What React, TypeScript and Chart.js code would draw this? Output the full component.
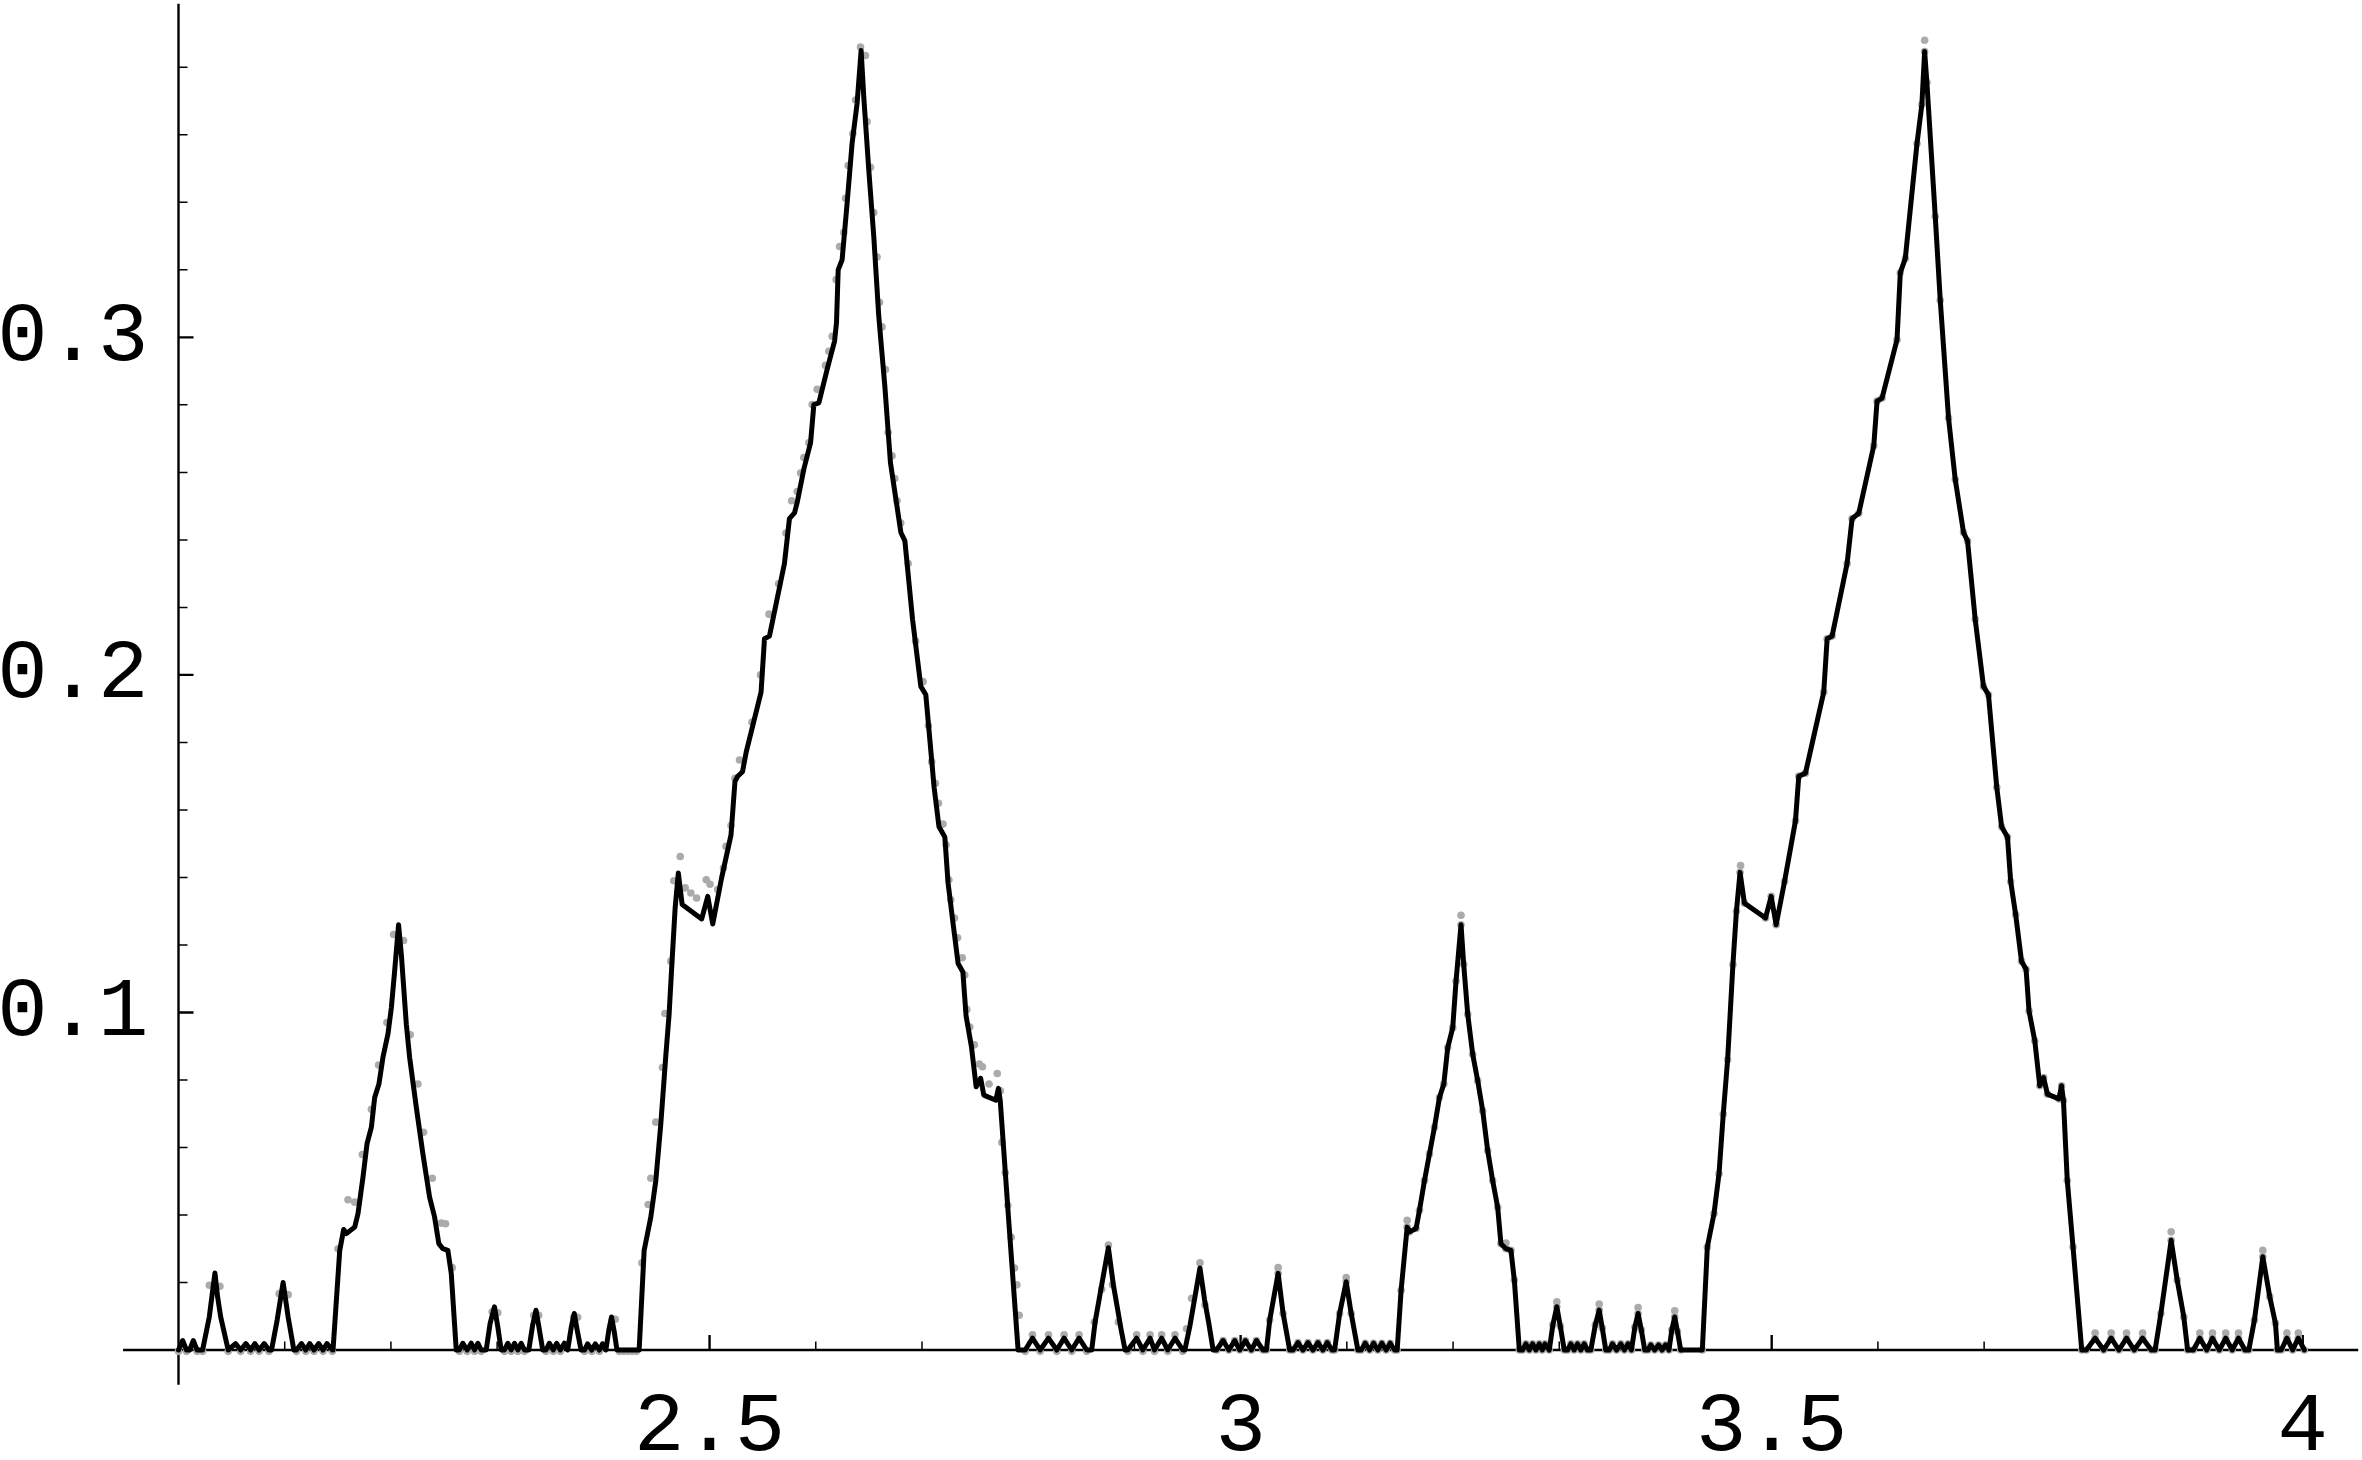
import React, { useEffect, useRef } from 'react';
import { Chart, registerables } from 'chart.js';

Chart.register(...registerables);

// ---------- axis / tick values ----------
const xMajorTicks = [2.5, 3, 3.5, 4];
const xTickLabels = ['2.5', '3', '3.5', '4'];
const xMinorTicks = [2.1, 2.2, 2.3, 2.4, 2.6, 2.7, 2.8, 2.9, 3.1, 3.2, 3.3, 3.4, 3.6, 3.7, 3.8, 3.9];
const yMajorTicks = [0.1, 0.2, 0.3];
const yTickLabels = ['0.1', '0.2', '0.3'];
const yMinorTicks = [0.02, 0.04, 0.06, 0.08, 0.12, 0.14, 0.16, 0.18, 0.22, 0.24, 0.26, 0.28, 0.32, 0.34, 0.36, 0.38];

const xMin = 2;
const xMax = 4.0522;
const yMin = 0;
const yMax = 0.39882;
const xAxisFrom = 1.9478;
const yAxisFrom = -0.0103;

// ---------- black curve (x, y) ----------
const curveA: [number, number][] = [
  [2.0000, 0], [2.0039, 0.0028], [2.0075, 0], [2.0105, 0], [2.0139, 0.0028], [2.0175, 0], [2.0227, 0],
  [2.0290, 0.0098], [2.0318, 0.0167], [2.0343, 0.0228], [2.0368, 0.0158], [2.0397, 0.0098], [2.0468, 0],
  [2.0537, 0.0019], [2.0585, 0], [2.0634, 0.0019], [2.0679, 0], [2.0719, 0.0019], [2.0759, 0], [2.0807, 0.0019], [2.0851, 0],
  [2.0876, 0], [2.0929, 0.0089], [2.0985, 0.0200], [2.1032, 0.0098], [2.1086, 0],
  [2.1111, 0], [2.1158, 0.0019], [2.1198, 0], [2.1236, 0.0019], [2.1276, 0], [2.1320, 0.0019], [2.1361, 0], [2.1398, 0.0019], [2.1449, 0],
];
const curveB: [number, number][] = [
  [2.1455, 0], [2.1518, 0.0295], [2.1555, 0.0357], [2.1581, 0.0345], [2.1659, 0.0364], [2.1690, 0.0404], [2.1737, 0.0512],
  [2.1775, 0.0611], [2.1816, 0.0660], [2.1847, 0.0748], [2.1887, 0.0788], [2.1925, 0.0867], [2.1972, 0.0936], [2.2004, 0.1014],
  [2.2035, 0.1123], [2.2072, 0.1260], [2.2098, 0.1172], [2.2145, 0.0965], [2.2176, 0.0867], [2.2239, 0.0719], [2.2301, 0.0581],
  [2.2364, 0.0453], [2.2411, 0.0394], [2.2451, 0.0315], [2.2489, 0.0300], [2.2536, 0.0295], [2.2568, 0.0227], [2.2615, 0],
];
const curveC: [number, number][] = [
  [2.2645, 0], [2.2677, 0.0020], [2.2718, 0], [2.2756, 0.0020], [2.2787, 0], [2.2818, 0.0020], [2.2850, 0], [2.2897, 0],
  [2.2934, 0.0079], [2.2975, 0.0128], [2.3006, 0.0069], [2.3038, 0],
  [2.3069, 0], [2.3100, 0.0020], [2.3132, 0], [2.3163, 0.0020], [2.3195, 0], [2.3226, 0.0020], [2.3257, 0], [2.3298, 0],
  [2.3335, 0.0075], [2.3366, 0.0118], [2.3395, 0.0065], [2.3429, 0],
  [2.3460, 0], [2.3492, 0.0020], [2.3529, 0], [2.3560, 0.0020], [2.3595, 0], [2.3633, 0.0020], [2.3664, 0],
  [2.3698, 0.0068], [2.3726, 0.0108], [2.3753, 0.0060], [2.3790, 0],
  [2.3823, 0], [2.3852, 0.0018], [2.3891, 0], [2.3924, 0.0018], [2.3963, 0], [2.3992, 0.0018], [2.4024, 0],
  [2.4052, 0.0060], [2.4077, 0.0098], [2.4102, 0.0055], [2.4128, 0], [2.4337, 0],
];
const curveD: [number, number][] = [
  [2.4384, 0.0295], [2.4447, 0.0394], [2.4494, 0.0502], [2.4541, 0.0670], [2.4590, 0.0880], [2.4619, 0.0994], [2.4645, 0.1142],
  [2.4676, 0.1310], [2.4706, 0.1413], [2.4742, 0.1320], [2.4926, 0.1277], [2.4983, 0.1344], [2.5030, 0.1262], [2.5113, 0.1398],
  [2.5202, 0.1526], [2.5239, 0.1684], [2.5263, 0.1699], [2.5310, 0.1713], [2.5346, 0.1773], [2.5485, 0.1949], [2.5517, 0.2107],
  [2.5564, 0.2115], [2.5705, 0.2330], [2.5752, 0.2463], [2.5800, 0.2480], [2.5825, 0.2511], [2.5888, 0.2610], [2.5951, 0.2688],
  [2.5982, 0.2801], [2.6029, 0.2806], [2.6107, 0.2905], [2.6177, 0.2989], [2.6195, 0.3043], [2.6211, 0.3200], [2.6248, 0.3230],
  [2.6295, 0.3397], [2.6342, 0.3575], [2.6389, 0.3693], [2.6427, 0.3850], [2.6452, 0.3712], [2.6499, 0.3496], [2.6546, 0.3299],
  [2.6593, 0.3063], [2.6650, 0.2856], [2.6703, 0.2629], [2.6759, 0.2511], [2.6801, 0.2422], [2.6839, 0.2397], [2.6911, 0.2165],
  [2.6989, 0.1966], [2.7036, 0.1941], [2.7114, 0.1667], [2.7160, 0.1550], [2.7215, 0.1520], [2.7245, 0.1385], [2.7290, 0.1270],
  [2.7340, 0.1145], [2.7385, 0.1120], [2.7415, 0.0990], [2.7465, 0.0900], [2.7510, 0.0780], [2.7552, 0.0805], [2.7582, 0.0755],
  [2.7695, 0.0740], [2.7720, 0.0775], [2.7737, 0.0738], [2.7815, 0.0390], [2.7905, 0],
];
const curveE: [number, number][] = [
  [2.7972, 0], [2.8040, 0.0035], [2.8113, 0], [2.8191, 0.0035], [2.8269, 0], [2.8338, 0.0035], [2.8410, 0], [2.8479, 0.0035], [2.8551, 0], [2.8598, 0],
  [2.8630, 0.0083], [2.8692, 0.0193], [2.8755, 0.0303], [2.8802, 0.0193], [2.8874, 0.0062], [2.8912, 0],
  [2.8938, 0], [2.9021, 0.0035], [2.9079, 0], [2.9147, 0.0035], [2.9189, 0], [2.9256, 0.0035], [2.9314, 0], [2.9382, 0.0035], [2.9455, 0], [2.9475, 0],
  [2.9523, 0.0072], [2.9617, 0.0243], [2.9660, 0.0150], [2.9700, 0.0080], [2.9741, 0],
];
const curveF: [number, number][] = [
  [2.9773, 0], [2.9835, 0.0028], [2.9889, 0], [2.9945, 0.0028], [2.9992, 0], [3.0045, 0.0028], [3.0101, 0], [3.0149, 0.0028], [3.0211, 0], [3.0243, 0],
  [3.0274, 0.0089], [3.0353, 0.0227], [3.0400, 0.0108], [3.0462, 0],
  [3.0493, 0], [3.0540, 0.0022], [3.0587, 0], [3.0634, 0.0022], [3.0681, 0], [3.0728, 0.0022], [3.0775, 0], [3.0816, 0.0022], [3.0860, 0], [3.0885, 0],
  [3.0932, 0.0108], [3.0994, 0.0202], [3.1041, 0.0108], [3.1104, 0],
  [3.1135, 0], [3.1173, 0.0020], [3.1214, 0], [3.1252, 0.0020], [3.1292, 0], [3.1330, 0.0020], [3.1370, 0], [3.1408, 0.0020], [3.1449, 0], [3.1474, 0],
];
const curveG: [number, number][] = [
  [3.1511, 0.0177], [3.1568, 0.0364], [3.1590, 0.0350], [3.1652, 0.0360], [3.1684, 0.0414], [3.1731, 0.0502], [3.1778, 0.0581],
  [3.1825, 0.0660], [3.1872, 0.0748], [3.1913, 0.0788], [3.1950, 0.0896], [3.1997, 0.0955], [3.2028, 0.1093], [3.2075, 0.1260],
  [3.2100, 0.1143], [3.2138, 0.0995], [3.2185, 0.0876], [3.2232, 0.0798], [3.2279, 0.0709], [3.2326, 0.0591], [3.2373, 0.0502],
  [3.2420, 0.0423], [3.2451, 0.0315], [3.2498, 0.0300], [3.2545, 0.0295], [3.2577, 0.0207], [3.2624, 0],
];
const curveH: [number, number][] = [
  [3.2655, 0], [3.2686, 0.0018], [3.2718, 0], [3.2749, 0.0018], [3.2780, 0], [3.2812, 0.0018], [3.2840, 0], [3.2865, 0.0018], [3.2906, 0],
  [3.2940, 0.0075], [3.2977, 0.0128], [3.3010, 0.0070], [3.3047, 0],
  [3.3078, 0], [3.3109, 0.0018], [3.3140, 0], [3.3172, 0.0018], [3.3203, 0], [3.3235, 0.0018], [3.3265, 0], [3.3297, 0],
  [3.3340, 0.0075], [3.3376, 0.0118], [3.3405, 0.0065], [3.3438, 0],
  [3.3470, 0], [3.3501, 0.0018], [3.3540, 0], [3.3579, 0.0018], [3.3613, 0], [3.3648, 0.0018], [3.3680, 0],
  [3.3712, 0.0068], [3.3742, 0.0108], [3.3772, 0.0060], [3.3805, 0],
  [3.3835, 0], [3.3862, 0.0015], [3.3898, 0], [3.3935, 0.0015], [3.3968, 0], [3.4000, 0.0015], [3.4033, 0],
  [3.4060, 0.0060], [3.4087, 0.0098], [3.4113, 0.0055], [3.4143, 0], [3.4347, 0],
];
const curveI: [number, number][] = [
  [3.4394, 0.0305], [3.4457, 0.0404], [3.4504, 0.0522], [3.4544, 0.0699], [3.4585, 0.0860], [3.4635, 0.1142], [3.4668, 0.1300],
  [3.4702, 0.1415], [3.4743, 0.1324], [3.4942, 0.1280], [3.4995, 0.1344], [3.5042, 0.1260], [3.5121, 0.1388], [3.5224, 0.1568],
  [3.5255, 0.1700], [3.5318, 0.1709], [3.5490, 0.1949], [3.5522, 0.2107], [3.5569, 0.2115], [3.5710, 0.2330], [3.5757, 0.2463],
  [3.5820, 0.2479], [3.5961, 0.2679], [3.5992, 0.2811], [3.6039, 0.2820], [3.6180, 0.2993], [3.6211, 0.3192], [3.6258, 0.3234],
  [3.6368, 0.3574], [3.6414, 0.3690], [3.6440, 0.3847], [3.6461, 0.3756], [3.6540, 0.3358], [3.6587, 0.3110], [3.6665, 0.2761],
  [3.6728, 0.2579], [3.6806, 0.2422], [3.6844, 0.2397], [3.6916, 0.2165], [3.6994, 0.1966], [3.7041, 0.1941], [3.7119, 0.1667],
  [3.7165, 0.1550], [3.7220, 0.1520], [3.7250, 0.1388], [3.7297, 0.1290], [3.7352, 0.1152], [3.7395, 0.1128], [3.7423, 0.1004],
  [3.7477, 0.0916], [3.7524, 0.0783], [3.7560, 0.0807], [3.7596, 0.0758], [3.7704, 0.0744], [3.7729, 0.0783], [3.7747, 0.0739],
  [3.7783, 0.0502], [3.7837, 0.0305], [3.7919, 0],
];
const curveJ: [number, number][] = [
  [3.7962, 0], [3.8045, 0.0035], [3.8126, 0], [3.8196, 0.0035], [3.8269, 0], [3.8341, 0.0035], [3.8413, 0], [3.8492, 0.0035], [3.8574, 0], [3.8610, 0],
  [3.8664, 0.0108], [3.8761, 0.0325], [3.8818, 0.0207], [3.8880, 0.0098], [3.8916, 0],
  [3.8970, 0], [3.9031, 0.0035], [3.9096, 0], [3.9150, 0.0035], [3.9214, 0], [3.9275, 0.0035], [3.9336, 0], [3.9395, 0.0035], [3.9456, 0], [3.9492, 0],
  [3.9545, 0.0089], [3.9624, 0.0276], [3.9689, 0.0158], [3.9743, 0.0079], [3.9761, 0],
  [3.9797, 0], [3.9851, 0.0035], [3.9905, 0], [3.9958, 0.0035], [4.0015, 0],
];

// ---------- grey sample dots (x, y) ----------
const dotsBaseline: [number, number][] = [
  [2.0000, -0.0004], [2.0075, -0.0004], [2.0175, -0.0004], [2.0227, -0.0004], [2.0468, -0.0004], [2.0585, -0.0004],
  [2.0679, -0.0004], [2.0759, -0.0004], [2.0851, -0.0004], [2.1111, -0.0004], [2.1198, -0.0004], [2.1276, -0.0004],
  [2.1361, -0.0004], [2.1449, -0.0004], [2.2645, -0.0004], [2.2718, -0.0004], [2.2787, -0.0004], [2.2850, -0.0004],
  [2.3069, -0.0004], [2.3132, -0.0004], [2.3195, -0.0004], [2.3257, -0.0004], [2.3460, -0.0004], [2.3529, -0.0004],
  [2.3595, -0.0004], [2.3823, -0.0004], [2.3891, -0.0004], [2.3963, -0.0004], [2.4150, -0.0004], [2.4190, -0.0004],
  [2.4230, -0.0004], [2.4270, -0.0004], [2.4310, -0.0004], [2.7972, -0.0004], [2.8113, -0.0004], [2.8269, -0.0004],
  [2.8410, -0.0004], [2.8551, -0.0004], [2.8938, -0.0004], [2.9079, -0.0004], [2.9189, -0.0004], [2.9314, -0.0004],
  [2.9455, -0.0004], [2.8040, 0.0045], [2.8191, 0.0045], [2.8338, 0.0045], [2.8479, 0.0045], [2.9021, 0.0045],
  [2.9147, 0.0045], [2.9256, 0.0045], [2.9382, 0.0045],
];
const dotsFirst: [number, number][] = [
  [2.0290, 0.0192], [2.0390, 0.0189], [2.0948, 0.0167], [2.1032, 0.0164], [2.1502, 0.0300], [2.1596, 0.0445], [2.1659, 0.0438],
  [2.1731, 0.0579], [2.1816, 0.0713], [2.1884, 0.0844], [2.1962, 0.0970], [2.2025, 0.1231], [2.2119, 0.1213], [2.2182, 0.0934],
  [2.2254, 0.0788], [2.2307, 0.0645], [2.2389, 0.0509], [2.2474, 0.0376], [2.2514, 0.0374], [2.2577, 0.0244], [2.2953, 0.0113],
  [2.3006, 0.0110], [2.3344, 0.0103], [2.3391, 0.0103], [2.3720, 0.0097], [2.3758, 0.0097], [2.4086, 0.0091], [2.4112, 0.0091],
  [2.4363, 0.0258], [2.4422, 0.0431], [2.4447, 0.0509], [2.4494, 0.0675], [2.4556, 0.0837], [2.4579, 0.0997], [2.4635, 0.1152],
  [2.4663, 0.1390], [2.4724, 0.1462], [2.4771, 0.1369], [2.4824, 0.1354], [2.4878, 0.1339], [2.4969, 0.1393], [2.5005, 0.1380],
  [2.5076, 0.1364], [2.5131, 0.1428], [2.5155, 0.1492], [2.5202, 0.1554], [2.5239, 0.1694], [2.5282, 0.1748], [2.5400, 0.1860],
  [2.5480, 0.2000], [2.5560, 0.2180], [2.5650, 0.2270], [2.5720, 0.2420], [2.5773, 0.2516], [2.5825, 0.2543], [2.5857, 0.2598],
  [2.5888, 0.2644], [2.5935, 0.2688], [2.5966, 0.2801], [2.6013, 0.2846], [2.6092, 0.2917], [2.6123, 0.2959], [2.6154, 0.3003],
  [2.6192, 0.3171], [2.6224, 0.3269], [2.6264, 0.3311], [2.6280, 0.3412], [2.6305, 0.3509], [2.6349, 0.3604], [2.6374, 0.3703],
  [2.6421, 0.3860], [2.6468, 0.3835], [2.6483, 0.3639], [2.6515, 0.3504], [2.6546, 0.3370], [2.6577, 0.3238], [2.6600, 0.3104],
  [2.6624, 0.3031], [2.6656, 0.2905], [2.6681, 0.2718], [2.6718, 0.2649], [2.6744, 0.2582], [2.6765, 0.2516], [2.6800, 0.2450],
  [2.6870, 0.2330], [2.6940, 0.2100], [2.7010, 0.1980], [2.7060, 0.1850], [2.7091, 0.1743], [2.7127, 0.1679], [2.7155, 0.1620],
  [2.7198, 0.1558], [2.7227, 0.1497], [2.7253, 0.1393], [2.7271, 0.1334], [2.7306, 0.1280], [2.7335, 0.1221], [2.7379, 0.1162],
  [2.7403, 0.1111], [2.7422, 0.1009], [2.7450, 0.0957], [2.7493, 0.0904], [2.7540, 0.0847], [2.7569, 0.0839], [2.7631, 0.0788],
  [2.7709, 0.0819], [2.7738, 0.0768], [2.7752, 0.0615], [2.7784, 0.0525], [2.7808, 0.0429], [2.7840, 0.0334], [2.7871, 0.0243],
  [2.7893, 0.0193], [2.7915, 0.0103], [2.8623, 0.0083], [2.8692, 0.0180], [2.8755, 0.0311], [2.8793, 0.0193], [2.8849, 0.0083],
  [2.9491, 0.0063], [2.9538, 0.0153], [2.9617, 0.0258], [2.9664, 0.0133],
];
const dotsSecondPeaks: [number, number][] = [
  [3.0353, 0.0244], [3.0994, 0.0215], [3.1568, 0.0384], [3.2075, 0.1288], [3.2498, 0.0317], [3.2977, 0.0143], [3.3376, 0.0136],
  [3.3742, 0.0126], [3.4087, 0.0116], [3.4707, 0.1435], [3.6440, 0.3880], [3.8761, 0.0350], [3.9624, 0.0295],
  [3.8045, 0.0050], [3.8196, 0.0050], [3.8341, 0.0050], [3.8492, 0.0050], [3.9031, 0.0050], [3.9150, 0.0050],
  [3.9275, 0.0050], [3.9395, 0.0050], [3.9851, 0.0050], [3.9958, 0.0050],
];

const curve = [...curveA, ...curveB, ...curveC, ...curveD, ...curveE, ...curveF, ...curveG, ...curveH, ...curveI, ...curveJ];
const dots = [...dotsBaseline, ...dotsFirst, ...curveF, ...curveG, ...curveH, ...curveI, ...curveJ, ...dotsSecondPeaks];

const toPoints = (arr: [number, number][]) => arr.map(([x, y]) => ({ x, y }));

const monoFont = "'Liberation Mono', 'DejaVu Sans Mono', monospace";

const axisFramePlugin = {
  id: 'axisFrame',
  beforeDatasetsDraw(chart: any) {
    const { ctx, scales } = chart;
    const xs = scales.x;
    const ys = scales.y;
    const ox = xs.getPixelForValue(xMin);
    const oy = ys.getPixelForValue(0);
    ctx.save();
    ctx.strokeStyle = '#000';
    ctx.lineCap = 'butt';
    ctx.lineWidth = 2.4;
    ctx.beginPath();
    ctx.moveTo(xs.getPixelForValue(xAxisFrom), oy);
    ctx.lineTo(xs.getPixelForValue(xMax), oy);
    ctx.moveTo(ox, ys.getPixelForValue(yMax));
    ctx.lineTo(ox, ys.getPixelForValue(yAxisFrom));
    ctx.stroke();
    const xTicks = (vals: number[], len: number, w: number) => {
      ctx.lineWidth = w;
      ctx.beginPath();
      vals.forEach((v) => {
        const p = xs.getPixelForValue(v);
        ctx.moveTo(p, oy);
        ctx.lineTo(p, oy - len);
      });
      ctx.stroke();
    };
    const yTicks = (vals: number[], len: number, w: number) => {
      ctx.lineWidth = w;
      ctx.beginPath();
      vals.forEach((v) => {
        const p = ys.getPixelForValue(v);
        ctx.moveTo(ox, p);
        ctx.lineTo(ox + len, p);
      });
      ctx.stroke();
    };
    xTicks(xMajorTicks, 15, 2.4);
    xTicks(xMinorTicks, 8.5, 1.5);
    yTicks(yMajorTicks, 15, 2.4);
    yTicks(yMinorTicks, 9, 1.5);
    ctx.restore();
  },
};

export default function App() {
  const canvasRef = useRef<HTMLCanvasElement>(null);

  useEffect(() => {
    document.body.style.margin = '0';
    const canvas = canvasRef.current;
    if (!canvas) return;
    const chart = new Chart(canvas, {
      type: 'scatter',
      data: {
        datasets: [
          {
            label: 'curve',
            data: toPoints(curve),
            showLine: true,
            borderColor: '#000000',
            borderWidth: 5,
            borderJoinStyle: 'round',
            borderCapStyle: 'round',
            pointRadius: 0,
            pointHoverRadius: 0,
            tension: 0,
            fill: false,
            clip: false,
            order: 0,
          } as any,
          {
            label: 'samples',
            data: toPoints(dots),
            showLine: false,
            pointRadius: 3.8,
            pointHoverRadius: 3.8,
            pointBackgroundColor: '#ababab',
            pointBorderWidth: 0,
            clip: false,
            order: 1,
          } as any,
        ],
      },
      options: {
        responsive: false,
        animation: false,
        devicePixelRatio: 1,
        events: [],
        layout: { padding: 0 },
        plugins: { legend: { display: false }, tooltip: { enabled: false } },
        scales: {
          x: {
            type: 'linear',
            min: xMin,
            max: xMax,
            position: 'bottom',
            grid: { display: false, drawTicks: false },
            border: { display: false },
            afterBuildTicks: (s: any) => {
              s.ticks = xMajorTicks.map((v) => ({ value: v }));
            },
            afterFit: (s: any) => {
              s.height = 110;
              s.paddingLeft = 0;
              s.paddingRight = 0;
            },
            ticks: {
              autoSkip: false,
              maxRotation: 0,
              minRotation: 0,
              padding: 27,
              color: '#000',
              font: { family: monoFont, size: 84, weight: 'normal' },
              callback: (_v: any, i: number) => xTickLabels[i],
            },
          },
          y: {
            type: 'linear',
            min: yMin,
            max: yMax,
            position: 'left',
            grid: { display: false, drawTicks: false },
            border: { display: false },
            afterBuildTicks: (s: any) => {
              s.ticks = yMajorTicks.map((v) => ({ value: v }));
            },
            afterFit: (s: any) => {
              s.width = 178.5;
              s.paddingTop = 0;
              s.paddingBottom = 0;
            },
            ticks: {
              autoSkip: false,
              padding: 30,
              labelOffset: 0,
              color: '#000',
              font: { family: monoFont, size: 84, weight: 'normal' },
              callback: (_v: any, i: number) => yTickLabels[i],
            },
          },
        },
      } as any,
      plugins: [axisFramePlugin],
    });
    return () => chart.destroy();
  }, []);

  return (
    <div style={{ position: 'fixed', left: 0, top: 0, width: 2362, height: 1460, background: '#ffffff' }}>
      <canvas ref={canvasRef} width={2362} height={1460} style={{ display: 'block' }} />
    </div>
  );
}
